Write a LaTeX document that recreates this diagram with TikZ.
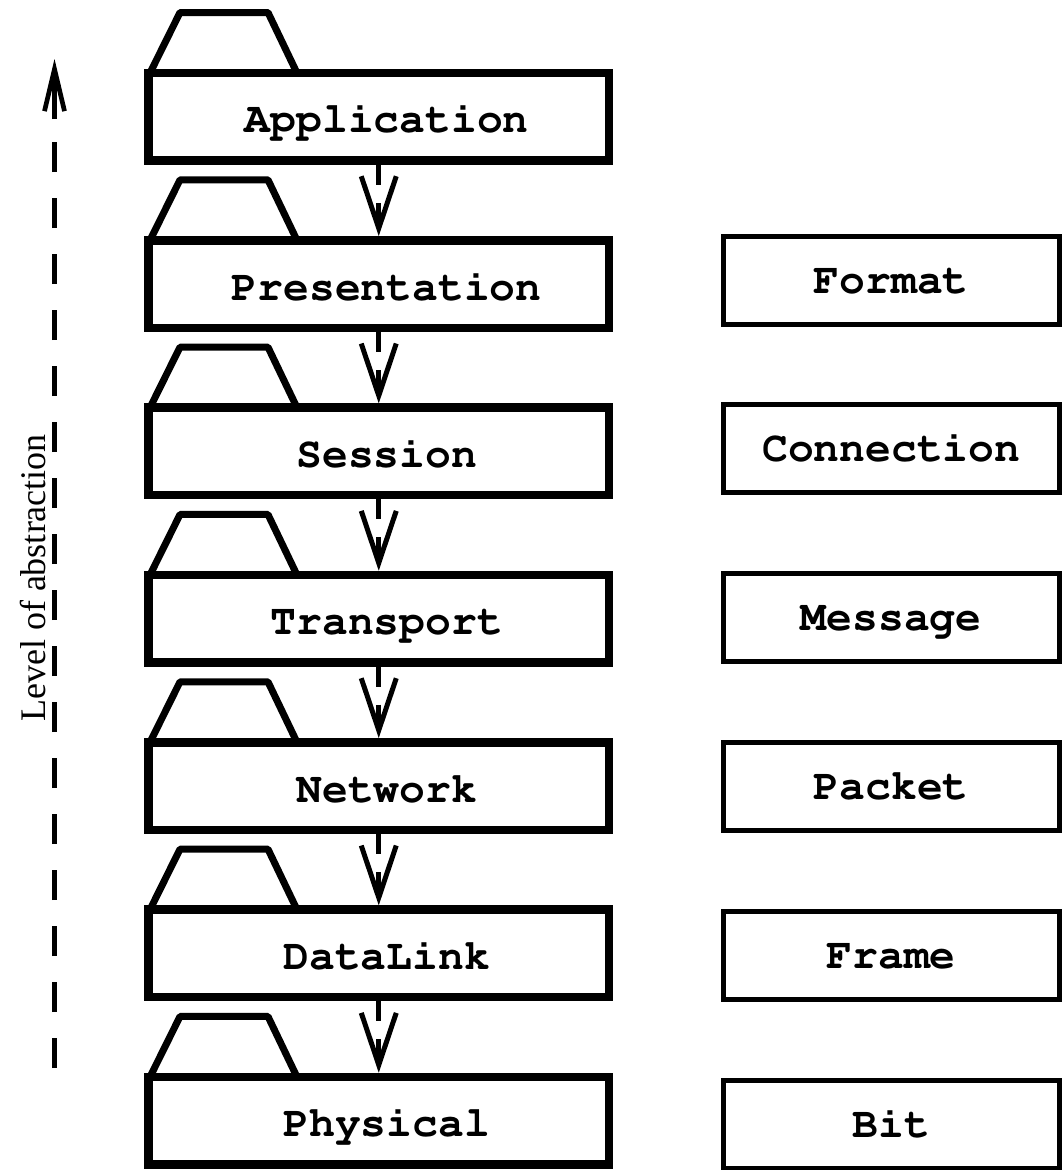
\documentclass[tikz,border=0pt]{standalone}
\usepackage{fontspec}
\setmainfont{Liberation Serif}
\usetikzlibrary{arrows.meta}

% Courier bold for the layer and unit names
\newcommand{\boxfont}{\fontencoding{T1}\fontfamily{pcr}\fontseries{b}\fontsize{43}{48}\selectfont}

\tikzset{
  layerbox/.style={draw, rectangle, line width=8.5pt, minimum width=460.5pt,
    minimum height=87.5pt, inner sep=0pt, font=\boxfont,
    text height=32pt, text depth=0pt,
    execute at begin node={\hspace*{16pt}}},
  tabshape/.style={line width=7pt, line join=bevel},
  unitbox/.style={draw, rectangle, line width=5pt, minimum width=336.5pt,
    minimum height=88pt, inner sep=0pt, font=\boxfont,
    text height=26pt, text depth=0pt},
  flow/.style={line width=5pt, dash pattern=on 20pt off 18pt,
    -{Straight Barb[length=52pt,width=35pt]}},
  axisline/.style={line width=4.7pt},
}

\begin{document}
\begin{tikzpicture}[x=1pt,y=-1pt]
\useasboundingbox (0,0) rectangle (1064,1170);

% protocol layers with their folder tabs
\foreach \nm/\txt [count=\i from 0] in {app/Application, pres/Presentation,
    sess/Session, trans/Transport, net/Network, link/DataLink, phys/Physical}{
  \draw[tabshape] (150,73+167.33*\i) -- ++(30,-60.5) -- ++(88,0) -- ++(29,60.5);
  \node[layerbox] (\nm) at (378.75,116.75+167.33*\i) {\txt};
}

% data units handled by the layers
\foreach \nm/\txt [count=\i from 0] in {fmt/Format, conn/Connection,
    msg/Message, pkt/Packet, frm/Frame, bit/Bit}{
  \node[unitbox] (\nm) at (891.25,280+168.9*\i) {\txt};
}

% dependencies between adjacent layers
\draw[flow] (app) -- (pres);
\draw[flow] (pres) -- (sess);
\draw[flow] (sess) -- (trans);
\draw[flow] (trans) -- (net);
\draw[flow] (net) -- (link);
\draw[flow] (link) -- (phys);

% abstraction axis
\coordinate (abs-bot) at (54.5,1068);
\coordinate (abs-mid) at (54.5,119);
\coordinate (abs-top) at (54.5,59);
\draw[axisline, dash pattern=on 30pt off 26pt] (abs-bot) -- (abs-mid);
\draw[axisline, -{Straight Barb[length=42pt,width=20pt]}] (abs-mid) -- (abs-top);
\node[rotate=90, anchor=base, font=\fontsize{36}{40}\selectfont]
  (abs-label) at (45,578) {Level of abstraction};
\end{tikzpicture}
\end{document}
